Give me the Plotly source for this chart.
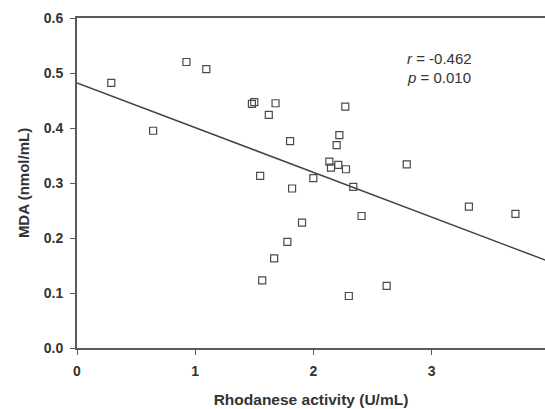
import plotly.graph_objects as go

rhodanese = [0.29, 0.644, 0.926, 1.094, 1.48, 1.50, 1.623, 1.68, 1.55, 2.27,
             1.803, 2.22, 2.197, 2.135, 2.149, 2.211, 2.276, 2.0, 1.82, 2.338,
             2.79, 3.316, 3.71, 2.408, 1.904, 1.78, 1.668, 1.567, 2.30, 2.62]
mda = [0.482, 0.395, 0.520, 0.507, 0.444, 0.447, 0.424, 0.445, 0.313, 0.439,
       0.376, 0.387, 0.369, 0.339, 0.328, 0.333, 0.325, 0.309, 0.290, 0.293,
       0.334, 0.257, 0.244, 0.240, 0.228, 0.193, 0.163, 0.123, 0.0945, 0.113]

fit_intercept = 0.482
fit_slope = -0.0813
fit_x = [0.0, 4.0]
fit_y = [fit_intercept + fit_slope * v for v in fit_x]

x_ticks = [0, 1, 2, 3]
y_ticks = [0.0, 0.1, 0.2, 0.3, 0.4, 0.5, 0.6]

FONT = "Liberation Sans, Arial, sans-serif"
AX = "#5a5a5a"
TXT = "#333333"

fig = go.Figure()
fig.add_trace(go.Scatter(x=fit_x, y=fit_y, mode="lines",
                         line=dict(color="#444444", width=1.5),
                         showlegend=False, hoverinfo="skip"))
fig.add_trace(go.Scatter(x=rhodanese, y=mda, mode="markers",
                         marker=dict(symbol="square-open", size=7,
                                     color="#4a4a4a", line=dict(width=1.2)),
                         showlegend=False))

fig.update_layout(
    width=545, height=409,
    margin=dict(l=77, r=0, t=18, b=61),
    paper_bgcolor="white", plot_bgcolor="white",
    font=dict(family=FONT, color=TXT),
    xaxis=dict(range=[0, 3.96], tickvals=x_ticks, showgrid=False, zeroline=False,
               showline=True, linecolor=AX, linewidth=2, mirror=True,
               ticks="outside", ticklen=5, tickcolor=AX, tickwidth=1,
               ticklabelstandoff=4, automargin=False,
               tickfont=dict(size=14, weight="bold", color=TXT),
               title=dict(text="Rhodanese activity (U/mL)", standoff=16,
                          font=dict(size=15.5, weight="bold", color=TXT))),
    yaxis=dict(range=[0, 0.6], tickvals=y_ticks, tickformat=".1f",
               showgrid=False, zeroline=False,
               showline=True, linecolor=AX, linewidth=2,
               ticks="outside", ticklen=5, tickcolor=AX, tickwidth=1,
               ticklabelstandoff=4, automargin=False,
               tickfont=dict(size=14, weight="bold", color=TXT),
               title=dict(text="MDA (nmol/mL)", standoff=10,
                          font=dict(size=15, weight="bold", color=TXT))),
    annotations=[
        dict(x=405, y=58, xref="paper", yref="paper", text="<i>r</i> = -0.462",
             showarrow=False, xanchor="left", yanchor="middle",
             font=dict(size=15, color=TXT)),
        dict(x=405, y=77, xref="paper", yref="paper", text="<i>p</i> = 0.010",
             showarrow=False, xanchor="left", yanchor="middle",
             font=dict(size=15, color=TXT)),
    ],
)

# place the two text annotations by pixel position
pw, ph = 545 - 77 - 0, 409 - 18 - 61
for a in fig.layout.annotations:
    a.x = (a.x - 77) / pw
    a.y = 1 - (a.y - 18) / ph

fig.write_html("out.html", config={"displayModeBar": False},
               post_script="document.body.style.margin='0';")
